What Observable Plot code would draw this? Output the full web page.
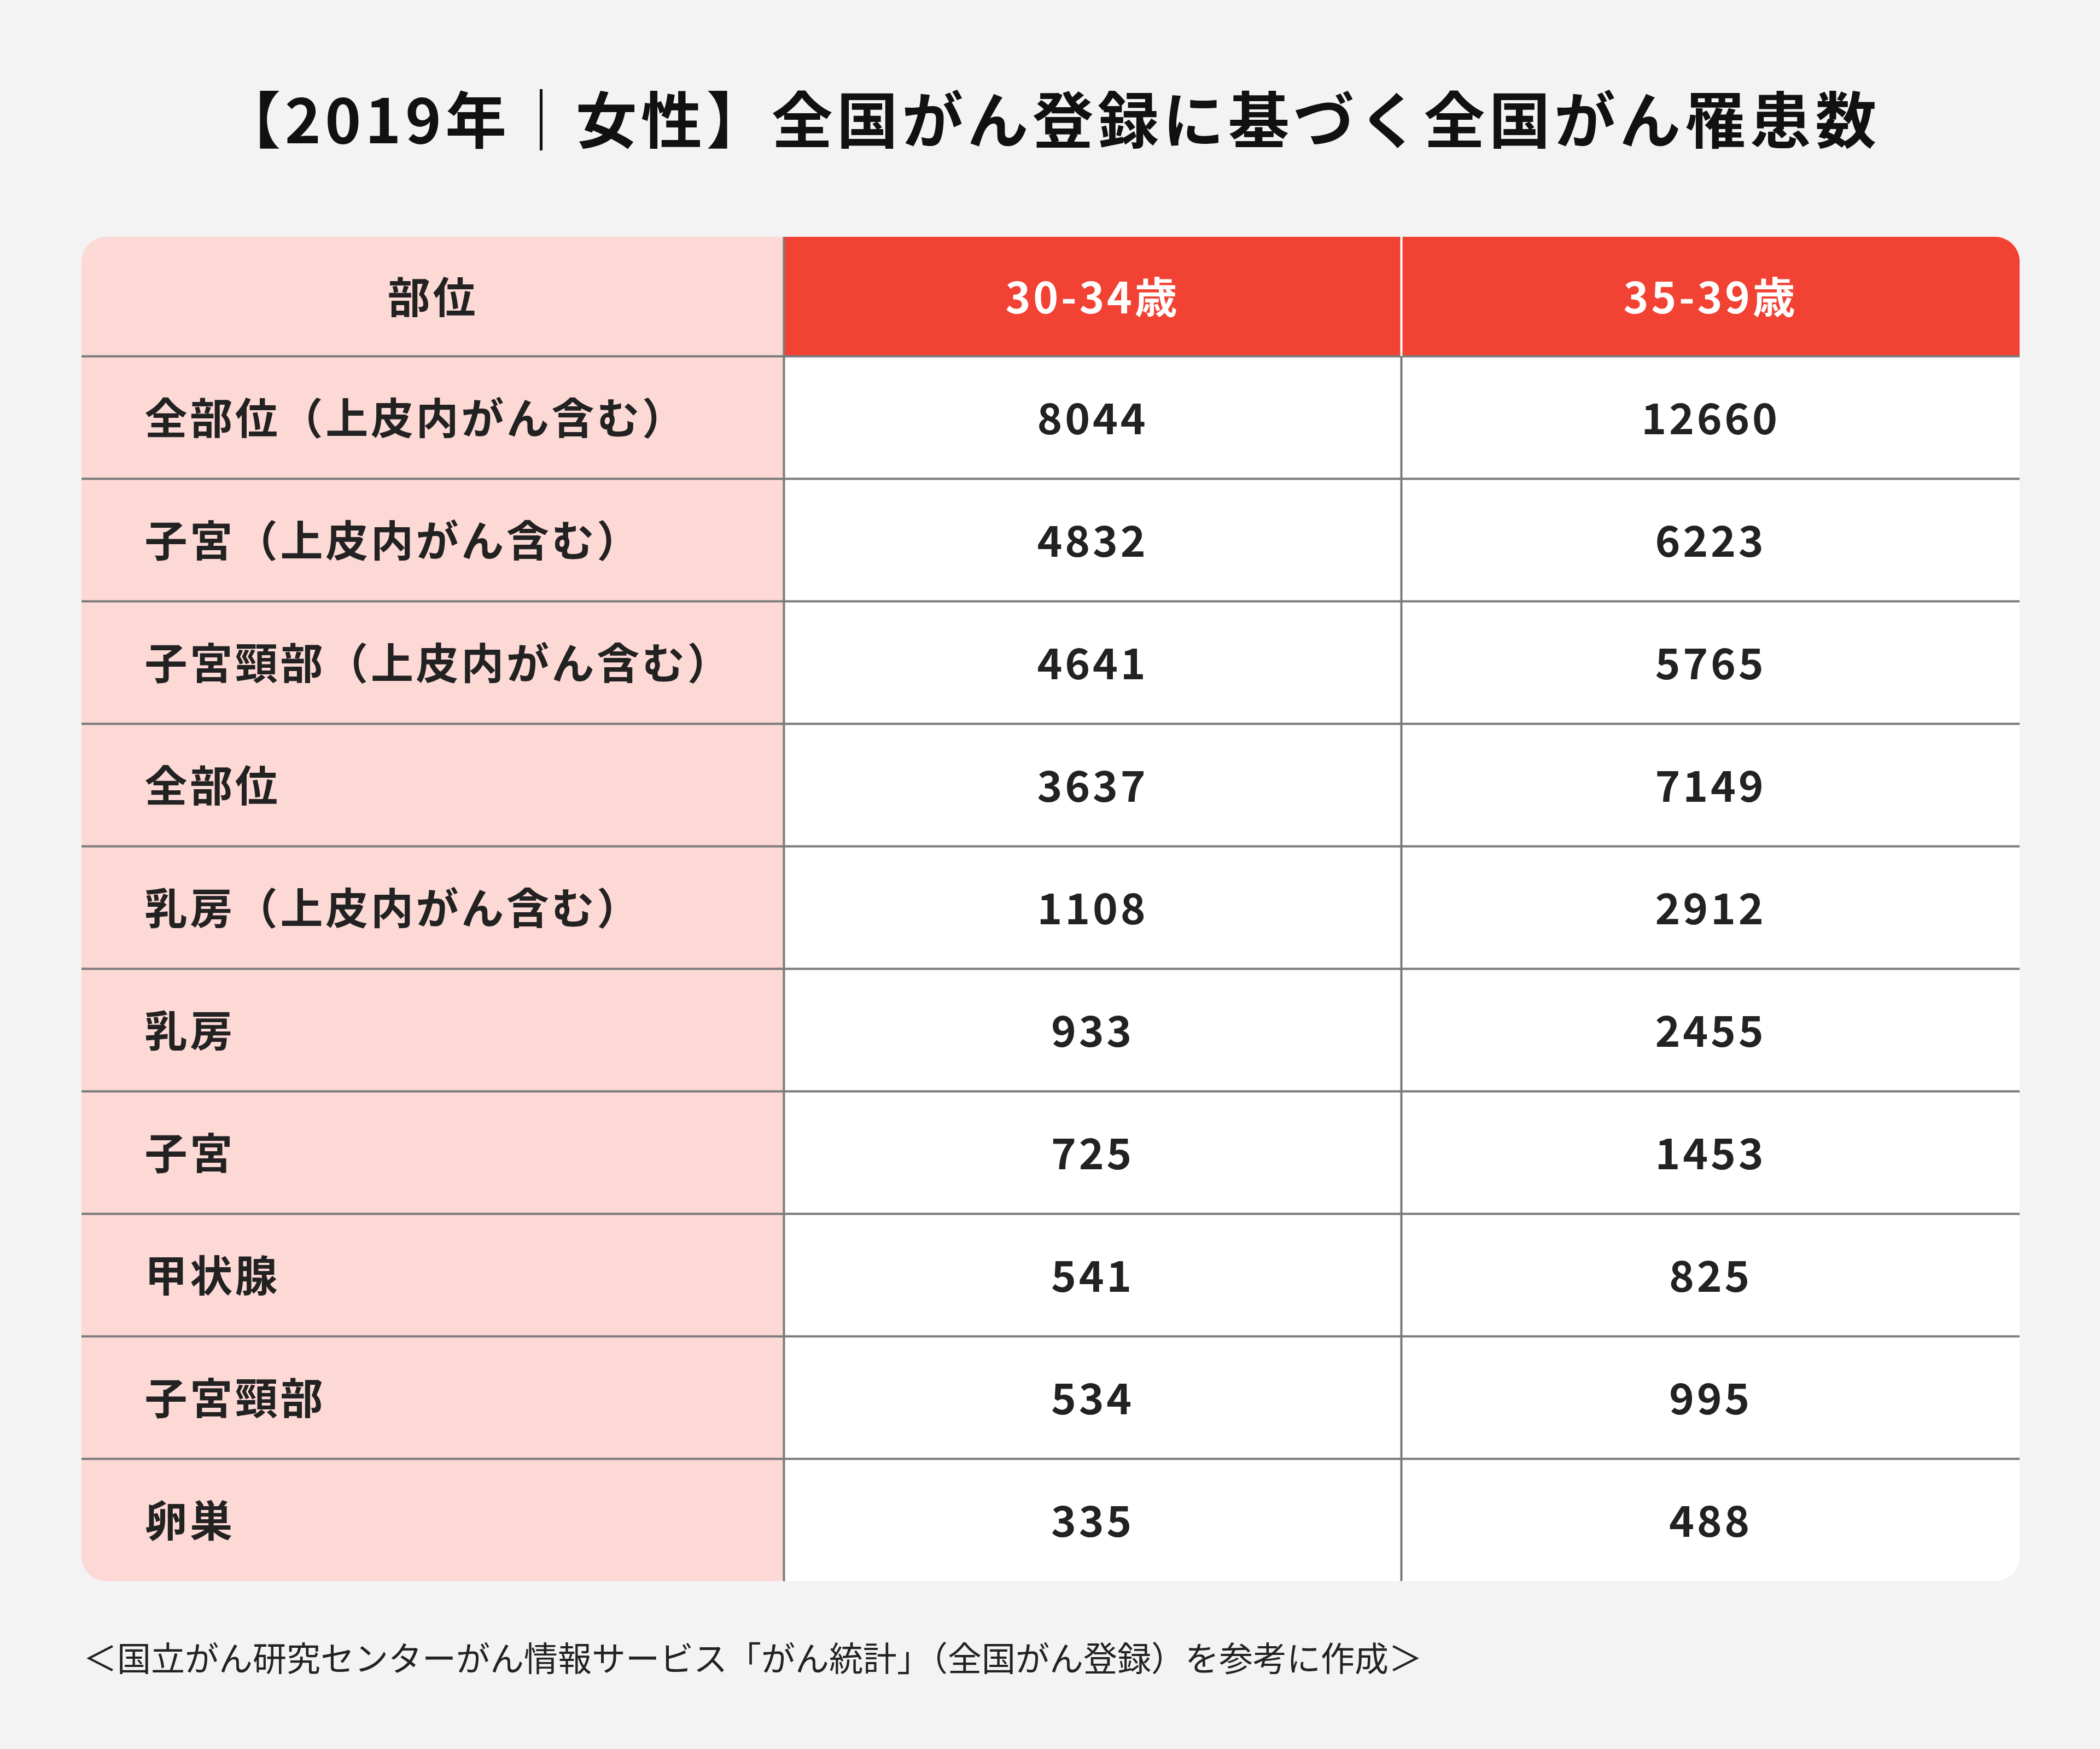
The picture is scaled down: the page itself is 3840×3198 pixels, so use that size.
<!DOCTYPE html>
<html>
<head>
<meta charset="utf-8">
<script src="https://cdn.jsdelivr.net/npm/d3@7"></script>
<script src="https://cdn.jsdelivr.net/npm/@observablehq/plot@0.6"></script>
<style>
  html, body { margin: 0; padding: 0; background: #f3f3f3; }
  #wrap { position: relative; width: 3840px; height: 3198px; overflow: hidden; background: #f3f3f3;
          font-family: "Noto Sans CJK JP", "Noto Sans", sans-serif; }
  #title { position: absolute; left: 0; top: 143px; width: 3840px; margin: 0; text-align: center;
           font-size: 112px; font-weight: 700; line-height: 140px; color: #111; letter-spacing: 0.065em; }
  #chart { position: absolute; left: 0; top: 300px; }
  #caption { position: absolute; left: 152px; top: 2989px; margin: 0; font-size: 62px; line-height: 80px;
             color: #222; font-weight: 400; white-space: nowrap; }
</style>
</head>
<body>
<div id="wrap">
  <h1 id="title">【2019年｜女性】全国がん登録に基づく全国がん罹患数</h1>
  <div id="chart"></div>
  <p id="caption">＜国立がん研究センターがん情報サービス「がん統計」（全国がん登録）を参考に作成＞</p>
</div>
<script>
// ---- data ----
const headers = ["部位", "30-34歳", "35-39歳"];
const sites = [
  "全部位（上皮内がん含む）",
  "子宮（上皮内がん含む）",
  "子宮頸部（上皮内がん含む）",
  "全部位",
  "乳房（上皮内がん含む）",
  "乳房",
  "子宮",
  "甲状腺",
  "子宮頸部",
  "卵巣"
];
const age30to34 = [8044, 4832, 4641, 3637, 1108, 933, 725, 541, 534, 335];
const age35to39 = [12660, 6223, 5765, 7149, 2912, 2455, 1453, 825, 995, 488];

(function () {
  // ---- layout (pixel units of the table) ----
  const colWidths = [1284, 1129, 1131];
  const headerH = 218, rowH = 224;
  const colEdges = [0];
  colWidths.forEach(w => colEdges.push(colEdges[colEdges.length - 1] + w));
  const tableW = colEdges[colEdges.length - 1];
  const tableH = headerH + rowH * sites.length;
  const tableLeft = 149, tableTop = 133, svgH = 2690;

  const PINK = "#fdd9d6", RED = "#f14233", WHITE = "#ffffff", INK = "#222222", GRID = "#7b7b7b";

  const cells = [];
  headers.forEach((h, c) => {
    cells.push({x1: colEdges[c], x2: colEdges[c + 1], y1: 0, y2: headerH,
                fill: c === 0 ? PINK : RED, label: h, ink: c === 0 ? INK : WHITE, kind: "center"});
  });
  sites.forEach((s, r) => {
    const y1 = headerH + r * rowH, y2 = y1 + rowH;
    const vals = [s, String(age30to34[r]), String(age35to39[r])];
    vals.forEach((v, c) => {
      cells.push({x1: colEdges[c], x2: colEdges[c + 1], y1, y2,
                  fill: c === 0 ? PINK : WHITE, label: v, ink: INK, kind: c === 0 ? "start" : "center"});
    });
  });

  const rowLines = d3.range(sites.length).map(i => headerH + i * rowH);
  const vLines = [
    {x: colEdges[1], y1: 0, y2: tableH, stroke: GRID},
    {x: colEdges[2], y1: 0, y2: headerH, stroke: WHITE},
    {x: colEdges[2], y1: headerH, y2: tableH, stroke: GRID}
  ];

  const font = "'Noto Sans CJK JP', 'Noto Sans', sans-serif";

  const chart = Plot.plot({
    width: 3840,
    height: svgH,
    margin: 0,
    style: {background: "transparent", fontFamily: font, overflow: "visible"},
    x: {domain: [0, tableW], range: [tableLeft, tableLeft + tableW], axis: null},
    y: {domain: [0, tableH], range: [tableTop, tableTop + tableH], axis: null},
    color: {type: "identity"},
    marks: [
      Plot.rect(cells, {x1: "x1", x2: "x2", y1: "y1", y2: "y2", fill: "fill"}),
      Plot.ruleY(rowLines, {x1: 0, x2: tableW, stroke: GRID, strokeWidth: 4}),
      Plot.ruleX(vLines, {x: "x", y1: "y1", y2: "y2", stroke: "stroke", strokeWidth: 4}),
      Plot.text(cells.filter(d => d.kind === "start"), {
        x: "x1", y: d => (d.y1 + d.y2) / 2, text: "label", fill: "ink", dx: 115, dy: 6,
        textAnchor: "start", lineAnchor: "middle", fontSize: 78, fontWeight: 700, fontFamily: font
      }),
      Plot.text(cells.filter(d => d.kind === "center"), {
        x: d => (d.x1 + d.x2) / 2, y: d => (d.y1 + d.y2) / 2, text: "label", fill: "ink", dy: 6,
        textAnchor: "middle", lineAnchor: "middle", fontSize: 78, fontWeight: 700, fontFamily: font
      })
    ]
  });

  const svg = d3.select(chart);
  const clipId = "table-clip";
  svg.insert("defs", ":first-child").append("clipPath").attr("id", clipId)
    .append("rect").attr("x", tableLeft).attr("y", tableTop).attr("width", tableW).attr("height", tableH)
    .attr("rx", 45).attr("ry", 45);
  const groups = svg.selectAll(":scope > g").nodes();
  groups.forEach(g => {
    const lab = g.getAttribute("aria-label");
    if (lab === "rect" || lab === "rule") g.setAttribute("clip-path", `url(#${clipId})`);
  });
  const textGroups = groups.filter(g => g.getAttribute("aria-label") === "text");
  if (textGroups[0]) d3.select(textGroups[0]).selectAll("text").style("letter-spacing", "0.06em");
  if (textGroups[1]) d3.select(textGroups[1]).selectAll("text").style("letter-spacing", "0.06em");

  document.getElementById("chart").appendChild(chart);
})();
</script>
</body>
</html>
